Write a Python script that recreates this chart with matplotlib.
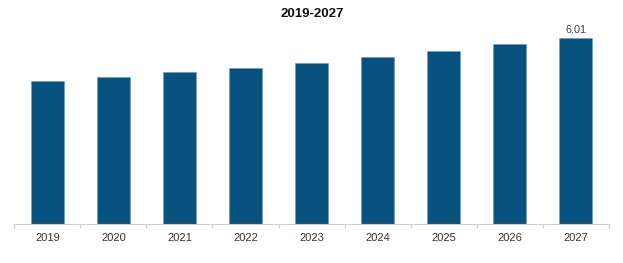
import numpy as np
import matplotlib
matplotlib.use('Agg')
import matplotlib.pyplot as plt

plt.rcParams['font.family'] = ['Liberation Sans', 'DejaVu Sans']

years = ['2019', '2020', '2021', '2022', '2023', '2024', '2025', '2026', '2027']
values = [4.62, 4.75, 4.91, 5.05, 5.22, 5.41, 5.60, 5.81, 6.01]

fig = plt.figure(figsize=(6.23, 2.63), dpi=100)
ax = fig.add_axes([0.0231, 0.147, 0.9539, 0.777])

x = np.arange(len(years))
ax.bar(x, values, width=0.495, color='#08527f', edgecolor='#6f95b3', linewidth=0.4)

# only the last bar gets its value shown
ax.text(x[-1], values[-1] + 0.12, f'{values[-1]:.2f}', ha='center', va='bottom',
        fontsize=7.8, color='#404040')

ax.set_xlim(-0.5, len(years) - 0.5)
ax.set_ylim(0, 6.60)
ax.set_yticks([])
ax.set_xticks(x)
ax.set_xticklabels(years, fontsize=8, color='#333333')
ax.tick_params(axis='x', which='major', length=0, pad=6)
ax.set_xticks(np.arange(-0.5, len(years)), minor=True)
ax.tick_params(axis='x', which='minor', length=3, color='#d0d0d0', width=0.8)

for s in ['top', 'right', 'left']:
    ax.spines[s].set_visible(False)
ax.spines['bottom'].set_color('#d0d0d0')
ax.spines['bottom'].set_linewidth(0.8)

fig.text(0.501, 0.945, '2019-2027', ha='center', va='center', fontsize=9.5,
         fontweight='bold', color='#111111')

plt.savefig('out.png', dpi=100)
